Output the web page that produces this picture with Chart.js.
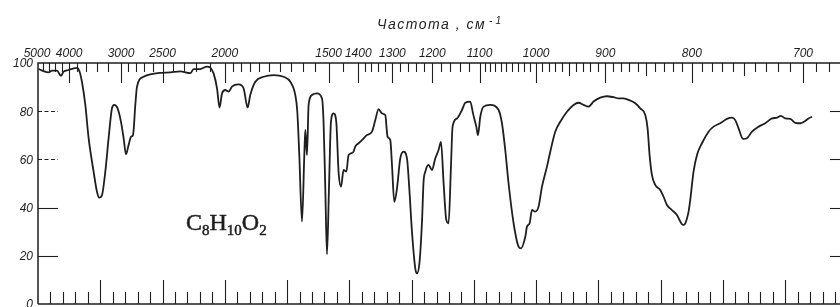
<!DOCTYPE html>
<html>
<head>
<meta charset="utf-8">
<script src="https://cdn.jsdelivr.net/npm/chart.js@4.4.1/dist/chart.umd.min.js"></script>
<style>
  html, body { margin: 0; padding: 0; background: #fff; }
</style>
</head>
<body>
<canvas id="grafico" width="840" height="307"></canvas>
<script>
const longitudOnda = [
  2.010, 2.090, 2.170, 2.225, 2.305, 2.369, 2.411, 2.491, 2.572, 2.626,
  2.668, 2.707, 2.760, 2.813, 2.893, 2.947, 2.984, 3.028, 3.081, 3.134,
  3.188, 3.225, 3.278, 3.333, 3.375, 3.413, 3.455, 3.494, 3.526, 3.563,
  3.590, 3.696, 3.803, 3.964, 4.125, 4.285, 4.446, 4.499, 4.606, 4.714,
  4.767, 4.820, 4.875, 4.916, 4.955, 5.008, 5.061, 5.115, 5.221, 5.302,
  5.366, 5.409, 5.490, 5.623, 5.784, 5.944, 6.052, 6.132, 6.164, 6.196,
  6.240, 6.277, 6.293, 6.320, 6.346, 6.400, 6.480, 6.561, 6.586, 6.614,
  6.641, 6.673, 6.705, 6.747, 6.790, 6.827, 6.866, 6.908, 6.951, 6.988,
  7.026, 7.068, 7.095, 7.149, 7.203, 7.283, 7.364, 7.417, 7.470, 7.524,
  7.577, 7.614, 7.658, 7.685, 7.722, 7.765, 7.818, 7.871, 7.926, 7.963,
  8.006, 8.059, 8.086, 8.128, 8.167, 8.192, 8.220, 8.272, 8.327, 8.380,
  8.433, 8.472, 8.514, 8.557, 8.594, 8.632, 8.658, 8.729, 8.809, 8.862,
  8.942, 8.986, 9.039, 9.066, 9.103, 9.156, 9.263, 9.397, 9.451, 9.504,
  9.557, 9.638, 9.718, 9.757, 9.826, 9.853, 9.895, 9.933, 9.986, 10.039,
  10.094, 10.174, 10.227, 10.307, 10.388, 10.495, 10.601, 10.682, 10.762, 10.842,
  10.922, 11.030, 11.138, 11.244, 11.324, 11.404, 11.512, 11.592, 11.672, 11.753,
  11.790, 11.822, 11.860, 11.913, 11.994, 12.047, 12.101, 12.181, 12.262, 12.315,
  12.358, 12.395, 12.448, 12.475, 12.528, 12.583, 12.663, 12.769, 12.850, 12.957,
  13.065, 13.145, 13.198, 13.251, 13.322, 13.386, 13.466, 13.572, 13.680, 13.788,
  13.868, 13.932, 14.001, 14.081, 14.162, 14.242, 14.306, 14.375, 14.430
];
const transmision = [
  97.5, 96.6, 96.1, 96.8, 96.8, 94.7, 96.4, 97.1, 97.8, 98.0,
  96.4, 92.0, 82.6, 68.8, 54.9, 46.6, 44.1, 45.2, 54.9, 68.8,
  81.2, 82.6, 81.2, 75.6, 68.8, 62.1, 66.0, 69.4, 70.1, 82.6,
  90.2, 94.3, 95.3, 95.9, 96.1, 96.5, 95.8, 97.5, 97.5, 98.5,
  98.1, 95.7, 89.5, 81.5, 87.4, 88.8, 88.1, 90.2, 91.1, 89.5,
  81.5, 86.7, 92.2, 94.3, 95.0, 94.3, 92.2, 86.7, 80.0, 62.0,
  34.2, 61.8, 72.2, 61.8, 82.6, 86.7, 87.4, 85.3, 75.6, 48.0,
  20.6, 48.0, 75.6, 79.1, 75.6, 54.9, 48.7, 55.6, 54.9, 61.8,
  62.5, 63.2, 65.3, 66.7, 68.0, 70.1, 71.5, 76.3, 80.9, 79.1,
  78.4, 69.4, 68.0, 57.7, 42.4, 47.9, 60.4, 63.2, 60.4, 47.9,
  30.0, 14.8, 12.7, 17.5, 34.2, 50.7, 54.9, 57.7, 55.6, 60.4,
  63.9, 67.3, 50.1, 34.9, 33.5, 57.0, 73.6, 77.0, 80.5, 83.5,
  84.0, 79.1, 73.6, 70.1, 77.7, 81.9, 82.6, 80.5, 75.0, 63.9,
  50.1, 33.5, 23.8, 23.1, 27.9, 32.1, 33.5, 39.0, 38.3, 40.4,
  48.7, 57.0, 63.2, 71.5, 75.6, 79.8, 82.6, 83.5, 82.6, 81.9,
  84.0, 85.6, 86.2, 85.8, 85.3, 85.3, 84.4, 83.3, 81.2, 78.4,
  72.9, 61.8, 53.5, 49.4, 47.3, 44.5, 41.1, 39.0, 36.9, 34.2,
  32.8, 33.5, 38.3, 43.2, 54.9, 61.8, 66.7, 71.5, 73.6, 75.0,
  76.8, 77.3, 76.3, 72.9, 68.5, 68.8, 71.5, 73.6, 75.0, 77.0,
  77.3, 78.1, 77.0, 76.8, 75.2, 75.0, 75.7, 77.0, 77.7
];

// escala superior en cm-1 y escala de la izquierda
const etiquetasArriba = [5000, 4000, 3000, 2500, 2000, 1500, 1400, 1300, 1200, 1100, 1000, 900, 800, 700];
const etiquetasY = [100, 80, 60, 40, 20, 0];
const titulo = 'Частота , см';
const formula = [['C', ''], ['H', '8'], ['O', '10'], ['', '2']];

// marcas pequeñas de la escala superior
const ticksArriba = [];
[[5000, 3000, 200], [3000, 2000, 100], [2000, 1400, 50], [1400, 1100, 20], [1100, 660, 10]]
  .forEach(([a, b, paso]) => { for (let w = a; w > b; w -= paso) ticksArriba.push(w); });

const ctx = document.getElementById('grafico').getContext('2d');

const marcos = {
  id: 'marcos',
  afterDraw(chart) {
    const c = chart.ctx;
    const a = chart.chartArea;
    const x = chart.scales.x, y = chart.scales.y;
    c.save();
    c.strokeStyle = '#1e1e1e';
    c.fillStyle = '#1e1e1e';

    // marco
    c.lineWidth = 1.5;
    c.beginPath();
    c.moveTo(a.left, a.bottom); c.lineTo(a.left, a.top); c.lineTo(a.right, a.top);
    c.moveTo(a.left, a.bottom); c.lineTo(a.right, a.bottom);
    c.stroke();

    // marcas de arriba (cm-1)
    c.lineWidth = 1.1;
    ticksArriba.forEach(wn => {
      const px = Math.round(x.getPixelForValue(10000 / wn)) + 0.5;
      if (px <= a.left + 1 || px > a.right) return;
      let largo = 9;
      if (etiquetasArriba.includes(wn)) largo = 20;
      else if (wn < 1000 && wn % 50 === 0) largo = 13;
      c.beginPath(); c.moveTo(px, a.top); c.lineTo(px, a.top + largo); c.stroke();
    });

    // marcas de abajo (mkm)
    for (let l = 2.2; l < 15; l += 0.2) {
      const v = Math.round(l * 10) / 10;
      const px = Math.round(x.getPixelForValue(v)) + 0.5;
      if (px > a.right) break;
      const largo = Math.abs(v - Math.round(v)) < 0.01 ? 24 : 12;
      c.beginPath(); c.moveTo(px, a.bottom); c.lineTo(px, a.bottom - largo); c.stroke();
    }

    // marcas del eje Y
    etiquetasY.forEach(v => {
      if (v === 0 || v === 100) return;
      const py = Math.round(y.getPixelForValue(v)) + 0.5;
      c.beginPath();
      if (v >= 60) c.setLineDash([4, 2.5]); else c.setLineDash([]);
      c.moveTo(a.left, py); c.lineTo(a.left + 20, py); c.stroke();
      c.setLineDash([]);
      c.beginPath(); c.moveTo(a.right - 10, py); c.lineTo(a.right, py); c.stroke();
    });

    // números
    c.font = 'italic 12px "Liberation Sans"';
    c.textAlign = 'right';
    c.textBaseline = 'middle';
    etiquetasY.forEach(v => c.fillText(String(v), a.left - 5, y.getPixelForValue(v) + 1));

    c.textAlign = 'center';
    c.textBaseline = 'alphabetic';
    c.font = 'italic 12px "Liberation Sans"';
    etiquetasArriba.forEach(wn => {
      const px = x.getPixelForValue(10000 / wn);
      c.fillText(String(wn), wn === 5000 ? px - 1 : px, 57);
    });

    // título
    c.textAlign = 'left';
    c.font = 'italic 14px "Liberation Sans"';
    c.letterSpacing = '1.5px';
    c.fillText(titulo, 377, 29);
    const w = c.measureText(titulo).width;
    c.font = 'italic 10px "Liberation Sans"';
    c.letterSpacing = '3px';
    c.fillText('-1', 377 + w + 3, 24);
    c.letterSpacing = '0px';

    // fórmula
    let fx = 186;
    c.lineWidth = 0.5;
    formula.forEach(([letra, sub]) => {
      if (sub) {
        c.font = '15px "Liberation Serif"';
        c.fillText(sub, fx, 235);
        c.strokeText(sub, fx, 235);
        fx += c.measureText(sub).width;
      }
      if (letra) {
        c.font = '24px "Liberation Serif"';
        c.fillText(letra, fx, 230);
        c.strokeText(letra, fx, 230);
        fx += c.measureText(letra).width;
      }
    });

    c.restore();
  }
};

new Chart(ctx, {
  type: 'scatter',
  data: {
    datasets: [{
      data: longitudOnda.map((l, i) => ({ x: l, y: transmision[i] })),
      showLine: true,
      borderColor: '#1e1e1e',
      borderWidth: 1.8,
      pointRadius: 0,
      cubicInterpolationMode: 'monotone'
    }]
  },
  options: {
    responsive: false,
    animation: false,
    layout: { padding: { left: 38, top: 63, right: 0, bottom: 3 } },
    plugins: { legend: { display: false }, tooltip: { enabled: false } },
    scales: {
      x: { type: 'linear', min: 2, max: 14.88, display: false },
      y: { min: 0, max: 100, display: false }
    }
  },
  plugins: [marcos]
});
</script>
</body>
</html>
